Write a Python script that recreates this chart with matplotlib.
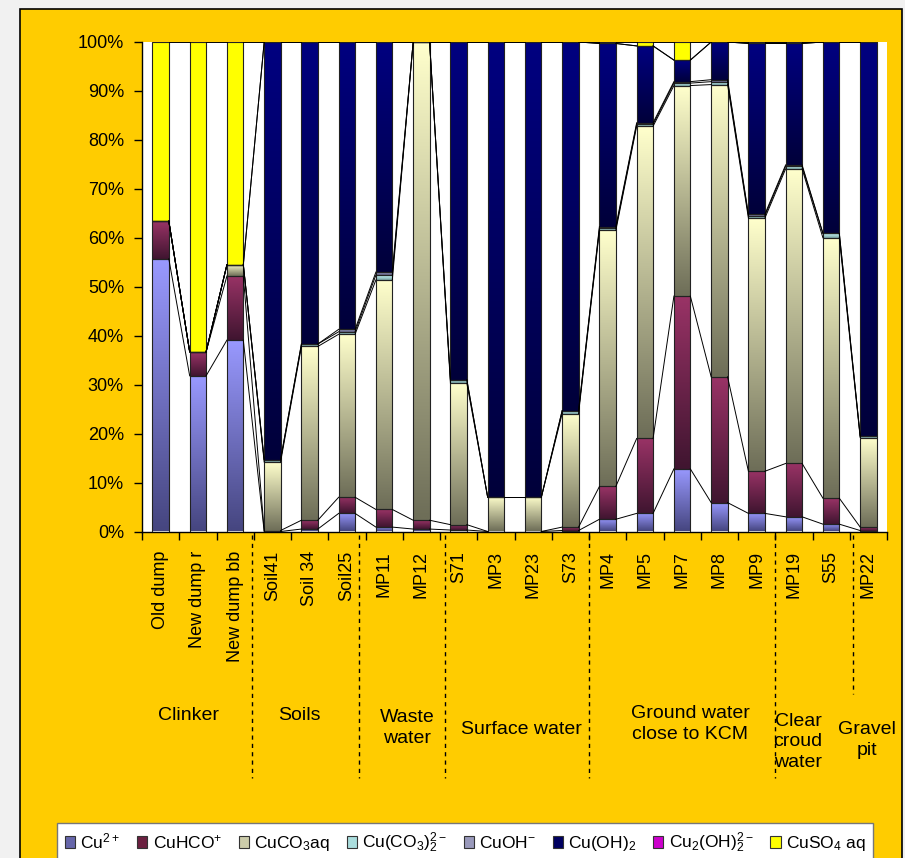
import numpy as np
import matplotlib.pyplot as plt
from matplotlib.patches import Rectangle
from matplotlib.lines import Line2D
from matplotlib.colors import to_rgb

plt.rcParams['font.family'] = ['Liberation Sans', 'DejaVu Sans']
plt.rcParams['mathtext.default'] = 'regular'

# sample names (x axis)
samples = ["Old dump", "New dump r", "New dump bb", "Soil41", "Soil 34", "Soil25",
           "MP11", "MP12", "S71", "MP3", "MP23", "S73", "MP4", "MP5", "MP7",
           "MP8", "MP9", "MP19", "S55", "MP22"]

# species shares in %
cu2 = [55.7, 31.8, 39.1, 0.0, 0.5, 3.7, 0.9, 0.5, 0.3, 0.0, 0.0, 0.2, 2.5, 3.7, 12.8, 5.9, 3.7, 3.0, 1.5, 0.2]
cuhco = [7.7, 4.9, 13.1, 0.2, 1.8, 3.3, 3.6, 1.8, 1.1, 0.0, 0.0, 0.7, 6.7, 15.3, 35.3, 25.7, 8.6, 10.9, 5.3, 0.7]
cuco3 = [0.0, 0.0, 2.3, 14.0, 35.5, 33.3, 46.9, 97.7, 28.9, 7.0, 7.0, 23.2, 52.3, 63.8, 43.0, 59.7, 51.7, 60.2, 53.2, 18.3]
cuco3_2 = [0.0, 0.0, 0.0, 0.5, 0.5, 0.5, 1.0, 0.0, 0.7, 0.0, 0.0, 0.6, 0.4, 0.4, 0.5, 0.6, 0.5, 0.5, 0.9, 0.3]
cuoh = [0.0, 0.0, 0.0, 0.0, 0.0, 0.5, 0.6, 0.0, 0.0, 0.0, 0.0, 0.0, 0.4, 0.3, 0.3, 0.4, 0.3, 0.3, 0.0, 0.0]
cuoh2 = [0.0, 0.0, 0.0, 85.3, 61.7, 58.7, 47.0, 0.0, 69.0, 93.0, 93.0, 75.3, 37.4, 15.7, 4.4, 7.7, 34.9, 24.8, 39.1, 80.5]
cu2oh2 = [0.0] * 20
cuso4 = [36.6, 63.3, 45.5, 0.0, 0.0, 0.0, 0.0, 0.0, 0.0, 0.0, 0.0, 0.0, 0.3, 0.8, 3.7, 0.0, 0.3, 0.3, 0.0, 0.0]

names = [r"Cu$^{2+}$", r"CuHCO$^{+}$", r"CuCO$_{3}$aq", r"Cu(CO$_{3})_{2}^{2-}$",
         r"CuOH$^{-}$", r"Cu(OH)$_{2}$", r"Cu$_{2}$(OH)$_{2}^{2-}$", r"CuSO$_{4}$ aq"]

# gradient colours: top of segment -> bottom of segment
top_cols = ["#9999ff", "#993366", "#ffffcc", "#ccffff", "#a0a0cc", "#000080", "#cc00cc", "#ffff00"]
bot_cols = ["#464680", "#401530", "#6e6e58", "#7aa3a3", "#606080", "#00003a", "#cc00cc", "#ffff00"]
legend_cols = ["#6666aa", "#6b2040", "#ccccaa", "#aadddd", "#9999bb", "#000060", "#cc00cc", "#ffff00"]

# group labels under the axis
groups = ["Clinker", "Soils", "Waste\nwater", "Surface water", "Ground water\nclose to KCM",
          "Clear\ncroud\nwater", "Gravel\npit"]

data = np.array([cu2, cuhco, cuco3, cuco3_2, cuoh, cuoh2, cu2oh2, cuso4])
shares = data / data.sum(axis=0) * 100

W, H = 905, 858
fig = plt.figure(figsize=(W / 100, H / 100), dpi=100, facecolor="#f1f1f1")

# orange frame behind everything
frame = Rectangle((20 / W, -0.02), 882 / W, 1.02 - 9 / H, transform=fig.transFigure,
                  facecolor="#ffcc00", edgecolor="black", lw=1.2, zorder=-10)
fig.add_artist(frame)

ax = fig.add_axes([142 / W, 1 - 531.5 / H, 745 / W, 489.5 / H])
ax.set_facecolor("white")

x = np.arange(len(samples))
bw = 0.44
bottom = np.zeros(len(samples))
for k in range(len(data)):
    bars = ax.bar(x, shares[k], bw, bottom=bottom, facecolor="none",
                  edgecolor="#222222", linewidth=0.8, zorder=3)
    c0 = np.array(to_rgb(top_cols[k]))
    c1 = np.array(to_rgb(bot_cols[k]))
    g = np.linspace(0, 1, 64)[:, None, None]
    img = c0 * (1 - g) + c1 * g
    for p in bars:
        if p.get_height() <= 0:
            continue
        x0, y0 = p.get_x(), p.get_y()
        ax.imshow(img, extent=(x0, x0 + p.get_width(), y0, y0 + p.get_height()),
                  origin="upper", aspect="auto", interpolation="bilinear", zorder=2)
    bottom = bottom + shares[k]
    # series lines between neighbouring bars
    for i in range(len(x) - 1):
        ax.plot([x[i] + bw / 2, x[i + 1] - bw / 2], [bottom[i], bottom[i + 1]],
                color="black", lw=0.7, zorder=4)

ax.set_xlim(-0.5, len(samples) - 0.5)
ax.set_ylim(0, 100)
for s in ["top", "right"]:
    ax.spines[s].set_visible(False)
ax.spines["left"].set_linewidth(1)
ax.spines["bottom"].set_linewidth(1)

ax.set_yticks(range(0, 101, 10))
ax.set_yticklabels([f"{v}%" for v in range(0, 101, 10)])
ax.tick_params(axis="y", length=6, width=1, labelsize=13, pad=7)

ax.set_xticks(x)
ax.set_xticklabels(samples, rotation=90, fontsize=13)
ax.set_xticks(np.arange(-0.5, len(samples), 1), minor=True)
ax.tick_params(axis="x", which="major", length=0, pad=14)
ax.tick_params(axis="x", which="minor", length=6, width=1)

# dashed separators and group names
seps = [(251.5, 778), (359, 778), (445, 778), (588.5, 778), (774.6, 778), (853, 694)]
for sx, ey in seps:
    fig.add_artist(Line2D([sx / W, sx / W], [1 - 535 / H, 1 - ey / H], transform=fig.transFigure,
                          color="black", lw=1, ls=(0, (3, 3))))

gpos = [(188, 715), (299, 715), (407, 728), (521, 729), (690, 724), (798, 742), (867, 740)]
for name, (gx, gy) in zip(groups, gpos):
    fig.text(gx / W, 1 - gy / H, name, ha="center", va="center", fontsize=14, linespacing=1.3)

handles = [Rectangle((0, 0), 1, 1, facecolor=c, edgecolor="#333333", lw=0.8) for c in legend_cols]
fig.legend(handles, names, loc="upper left", bbox_to_anchor=(57 / W, 1 - 823 / H), ncol=8,
           fontsize=12.5, handlelength=0.6, handleheight=0.6, handletextpad=0.3,
           columnspacing=0.95, borderaxespad=0, borderpad=0.45, fancybox=False,
           framealpha=1, edgecolor="#777777")

fig.savefig("out.png", dpi=100, facecolor=fig.get_facecolor())
